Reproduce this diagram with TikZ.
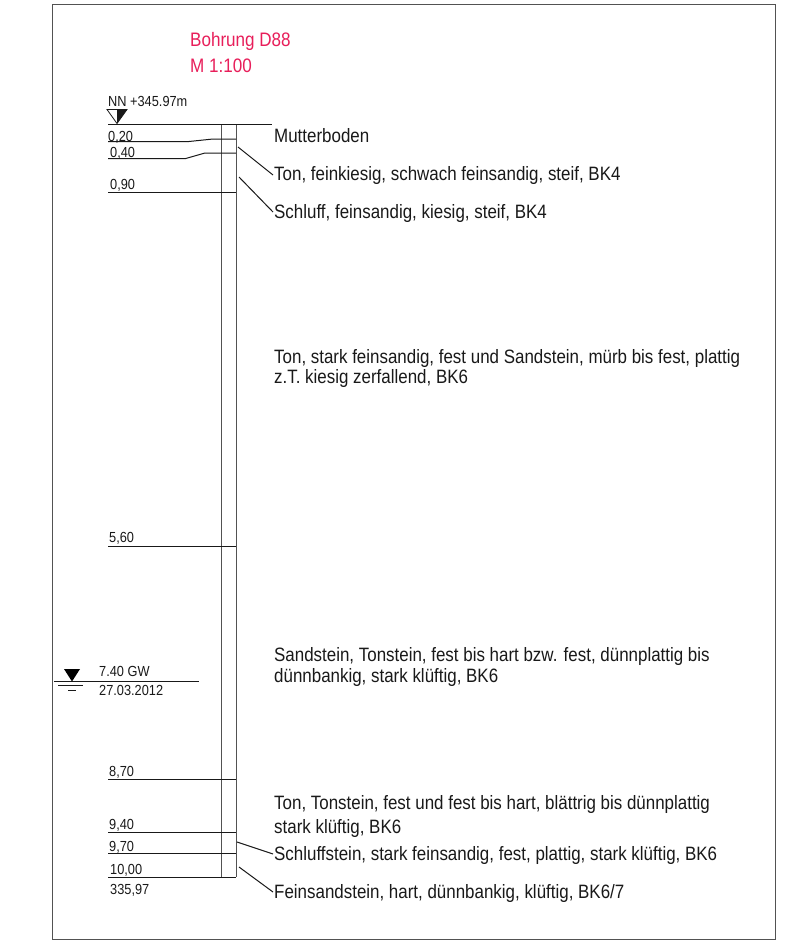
\documentclass[tikz,border=0pt]{standalone}
\usepackage{fontspec}
\setmainfont[FakeStretch=0.875]{Liberation Sans}
\definecolor{titlered}{RGB}{232,30,90}
\definecolor{ink}{RGB}{25,25,25}
\tikzset{
 px/.style={x=1pt,y=-1pt},
 lay/.style={draw=ink,line width=1pt},
 frameline/.style={draw=ink!75,line width=1pt},
 desc/.style={anchor=base west,inner sep=0pt,yshift=-0.7pt,font=\fontsize{19.35}{21}\selectfont,text=ink,align=left},
 depth/.style={anchor=base west,inner sep=0pt,font=\fontsize{14.6}{16}\selectfont,text=ink},
 titletext/.style={anchor=base west,inner sep=0pt,font=\fontsize{19.5}{21}\selectfont,text=titlered}
}
\begin{document}
\begin{tikzpicture}[px]
\useasboundingbox (0,0) rectangle (797,946);
\fill[white] (0,0) rectangle (797,946);
\draw[frameline] (52,4) rectangle (775,939);
\node[titletext] (t1) at (190,46) {Bohrung D88};
\node[titletext] (t2) at (190,72.5) {M 1:100};
\node[depth] (nn) at (108,106) {NN +345.97m};
% bore
\coordinate (bl) at (221,124); \coordinate (br) at (236,124);
\coordinate (bbl) at (221,877); \coordinate (bbr) at (236,877);
\draw[frameline] (bl) -- (bbl);
\draw[frameline] (br) -- (bbr);
% ground
\coordinate (g0) at (108,124); \coordinate (g1) at (272,124);
\draw[lay] (g0) -- (g1);
\draw[lay,line width=0.8pt,fill=white] (107,109.5) -- (127,109.5) -- (117,123.5) -- cycle;
\fill[ink] (117,109.5) -- (127,109.5) -- (117,123.5) -- cycle;
% layers
\coordinate (a0) at (108,141.7); \coordinate (a1) at (187,141.7); \coordinate (a2) at (213,139); \coordinate (a3) at (236,139);
\draw[lay] (a0) -- (a1) -- (a2) -- (a3);
\coordinate (b0) at (108,158.7); \coordinate (b1) at (185,158.7); \coordinate (b2) at (205,153); \coordinate (b3) at (236,153);
\draw[lay] (b0) -- (b1) -- (b2) -- (b3);
\foreach \n/\y in {c/192,d/546,e/779,f/832,g/853.5,h/877}{
  \coordinate (\n0) at (108,\y); \coordinate (\n1) at (236,\y);
  \draw[lay] (\n0) -- (\n1);
}
\node[depth] (l1) at (108,141) {0,20};
\node[depth] (l2) at (110,157) {0,40};
\node[depth] (l3) at (110,189) {0,90};
\node[depth] (l4) at (109,542.5) {5,60};
\node[depth] (l5) at (109,776) {8,70};
\node[depth] (l6) at (109,829) {9,40};
\node[depth] (l7) at (109,851) {9,70};
\node[depth] (l8) at (110,874.5) {10,00};
\node[depth] (l9) at (110,894) {335,97};
% GW
\coordinate (w0) at (54,681.5); \coordinate (w1) at (199,681.5);
\draw[lay] (w0) -- (w1);
\fill[black] (64,669) -- (80,669) -- (72,681.5) -- cycle;
\draw[lay] (58,685) -- (83,685);
\draw[lay] (68,690) -- (76,690);
\node[depth] (gw) at (99,676) {7.40 GW};
\node[depth] (gd) at (99,695) {27.03.2012};
% descriptions
\node[desc] (m) at (274,142) {Mutterboden};
\node[desc] (n1) at (274,180) {Ton, feinkiesig, schwach feinsandig, steif, BK4};
\node[desc] (n2) at (274,218) {Schluff, feinsandig, kiesig, steif, BK4};
\node[desc] (n3) at (274,363) {Ton, stark feinsandig, fest und Sandstein, mürb bis fest, plattig};
\node[desc] (n3b) at (274,383) {z.T. kiesig zerfallend, BK6};
\node[desc] (n4) at (274,661) {Sandstein, Tonstein, fest bis hart bzw. fest, dünnplattig bis};
\node[desc] (n4b) at (274,682) {dünnbankig, stark klüftig, BK6};
\node[desc] (n5) at (274,809) {Ton, Tonstein, fest und fest bis hart, blättrig bis dünnplattig};
\node[desc] (n5b) at (274,833) {stark klüftig, BK6};
\node[desc] (n6) at (274,860) {Schluffstein, stark feinsandig, fest, plattig, stark klüftig, BK6};
\node[desc] (n7) at (274,898) {Feinsandstein, hart, dünnbankig, klüftig, BK6/7};
% leaders
\coordinate (p1) at (238,147); \coordinate (p2) at (239,177); \coordinate (p3) at (237,842); \coordinate (p4) at (239,867);
\coordinate (q1) at (273,175); \coordinate (q2) at (273,212); \coordinate (q3) at (273,854); \coordinate (q4) at (273,892);
\draw[lay] (p1) -- (q1);
\draw[lay] (p2) -- (q2);
\draw[lay] (p3) -- (q3);
\draw[lay] (p4) -- (q4);
\end{tikzpicture}
\end{document}
